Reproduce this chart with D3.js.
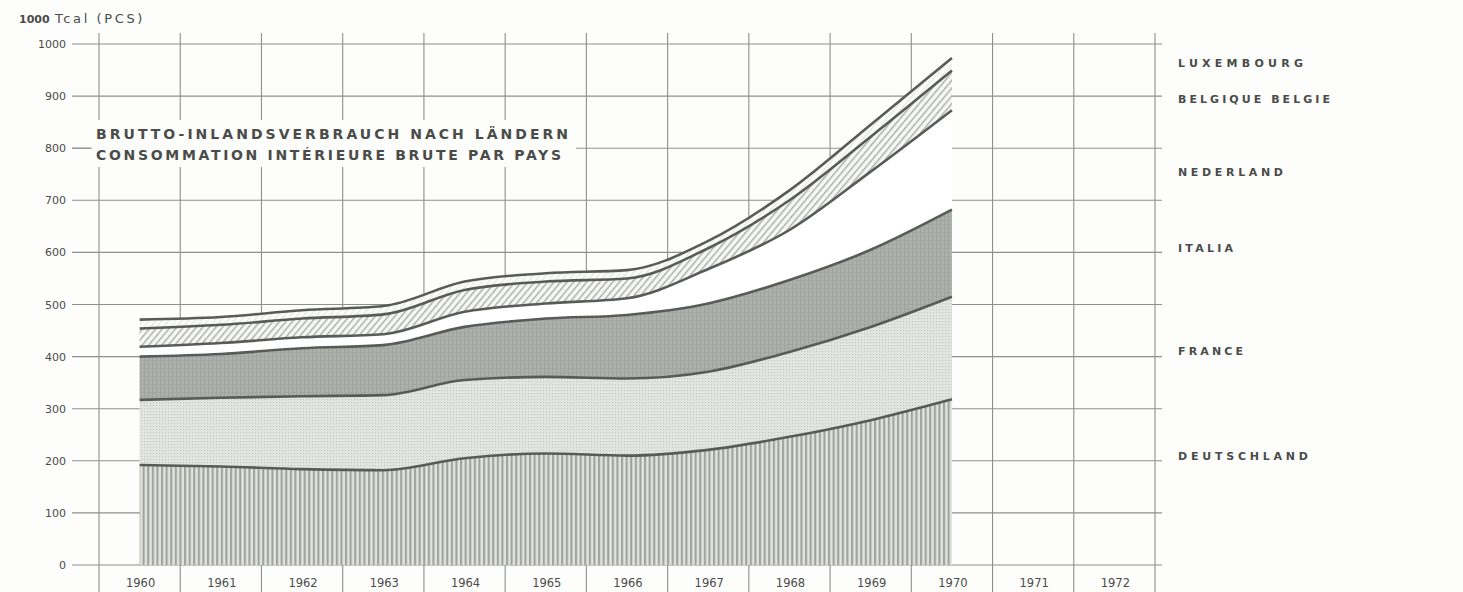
<!DOCTYPE html>
<html>
<head>
<meta charset="utf-8">
<script src="https://cdn.jsdelivr.net/npm/d3@7"></script>
<style>
  html, body { margin: 0; padding: 0; background: #fdfdfb; }
  svg { display: block; }
  text { font-family: "DejaVu Sans", "Liberation Sans", sans-serif; fill: #4a4c4a; }
</style>
</head>
<body>
<svg id="chart" width="1463" height="592"></svg>
<script>
// Gross inland consumption by country, 1000 Tcal (PCS)
const years = [1960, 1961, 1962, 1963, 1964, 1965, 1966, 1967, 1968, 1969, 1970];
const axisYears = [1960, 1961, 1962, 1963, 1964, 1965, 1966, 1967, 1968, 1969, 1970, 1971, 1972];
const yTicks = [0, 100, 200, 300, 400, 500, 600, 700, 800, 900, 1000];

const deutschland = [192, 189, 184, 182, 205, 214, 210, 221, 246, 278, 318];
const france      = [125, 132, 140, 144, 150, 147, 148, 150, 163, 179, 197];
const italia      = [ 83,  84,  92,  96, 102, 112, 122, 131, 138, 148, 167];
const nederland   = [ 19,  21,  21,  21,  29,  29,  32,  66,  96, 150, 191];
const belgique    = [ 35,  35,  36,  38,  42,  42,  38,  40,  57,  67,  76];
const luxembourg  = [ 17,  15,  16,  16,  16,  16,  16,  14,  19,  23,  24];

const countries = ["DEUTSCHLAND", "FRANCE", "ITALIA", "NEDERLAND", "BELGIQUE BELGIE", "LUXEMBOURG"];
const seriesValues = [deutschland, france, italia, nederland, belgique, luxembourg];
const countryLabelWidths = [130, 65, 55, 105, 152, 125];
const titleLines = ["BRUTTO-INLANDSVERBRAUCH NACH LÄNDERN", "CONSOMMATION INTÉRIEURE BRUTE PAR PAYS"];

// rows for d3.stack
const rows = years.map((yr, i) => {
  const r = { year: yr };
  countries.forEach((c, k) => { r[c] = seriesValues[k][i]; });
  return r;
});

const svg = d3.select("#chart");
const x = d3.scaleLinear().domain([1959.5, 1972.5]).range([99, 1155]);
const y = d3.scaleLinear().domain([0, 1000]).range([565, 44]);

// ---- fill patterns ----
const defs = svg.append("defs");

const pDeu = defs.append("pattern").attr("id", "p-deu")
  .attr("patternUnits", "userSpaceOnUse").attr("width", 4.6).attr("height", 10);
pDeu.append("rect").attr("width", 4.6).attr("height", 10).attr("fill", "#e1e4de");
pDeu.append("rect").attr("x", 0).attr("width", 2.1).attr("height", 10).attr("fill", "#9fa39c");

const pFra = defs.append("pattern").attr("id", "p-fra")
  .attr("patternUnits", "userSpaceOnUse").attr("width", 3).attr("height", 3);
pFra.append("rect").attr("width", 3).attr("height", 3).attr("fill", "#e2e5e0");
pFra.append("rect").attr("width", 1.2).attr("height", 1.2).attr("fill", "#c6c9c4");

const pIta = defs.append("pattern").attr("id", "p-ita")
  .attr("patternUnits", "userSpaceOnUse").attr("width", 4).attr("height", 4);
pIta.append("rect").attr("width", 4).attr("height", 4).attr("fill", "#aeb0ac");
pIta.append("rect").attr("width", 1).attr("height", 4).attr("fill", "#a0a29e");
pIta.append("rect").attr("width", 4).attr("height", 1).attr("fill", "#a4a6a2");

const pBel = defs.append("pattern").attr("id", "p-bel")
  .attr("patternUnits", "userSpaceOnUse").attr("width", 5).attr("height", 5)
  .attr("patternTransform", "rotate(40)");
pBel.append("rect").attr("width", 5).attr("height", 5).attr("fill", "#f7f8f5");
pBel.append("rect").attr("width", 1.4).attr("height", 5).attr("fill", "#a9aca7");

const pLux = defs.append("pattern").attr("id", "p-lux")
  .attr("patternUnits", "userSpaceOnUse").attr("width", 5).attr("height", 5)
  .attr("patternTransform", "rotate(40)");
pLux.append("rect").attr("width", 5).attr("height", 5).attr("fill", "#fbfbf9");
pLux.append("rect").attr("width", 1).attr("height", 5).attr("fill", "#e4e5e1");

const fills = ["url(#p-deu)", "url(#p-fra)", "url(#p-ita)", "#ffffff", "url(#p-bel)", "url(#p-lux)"];

// ---- grid ----
const gridColor = "#8e908c";
const grid = svg.append("g");
grid.selectAll("line.h").data(yTicks).join("line")
  .attr("x1", 72).attr("x2", 1162)
  .attr("y1", d => y(d)).attr("y2", d => y(d))
  .attr("stroke", gridColor).attr("stroke-width", 1.1);
const bounds = d3.range(1959.5, 1973, 1);
grid.selectAll("line.v").data(bounds).join("line")
  .attr("x1", d => x(d)).attr("x2", d => x(d))
  .attr("y1", 33).attr("y2", 592)
  .attr("stroke", gridColor).attr("stroke-width", 1.1);

// ---- stacked areas ----
const stack = d3.stack().keys(countries);
const layers = stack(rows);
const curve = d3.curveMonotoneX;
const area = d3.area().curve(curve)
  .x(d => x(d.data.year)).y0(d => y(d[0])).y1(d => y(d[1]));
const topLine = d3.line().curve(curve)
  .x(d => x(d.data.year)).y(d => y(d[1]));

svg.append("g").selectAll("path").data(layers).join("path")
  .attr("d", area).attr("fill", (d, i) => fills[i]).attr("stroke", "none");

svg.append("g").selectAll("path").data(layers).join("path")
  .attr("d", topLine).attr("fill", "none")
  .attr("stroke", "#595b58").attr("stroke-width", 2.6);

// ---- axes labels ----
svg.append("g").selectAll("text").data(yTicks).join("text")
  .attr("x", 66).attr("y", d => y(d) + 4)
  .attr("text-anchor", "end").attr("font-size", 11)
  .attr("font-family", "DejaVu Sans Condensed, DejaVu Sans, sans-serif")
  .attr("fill", "#5a5c5a")
  .text(d => d3.format("d")(d));

svg.append("g").selectAll("text").data(axisYears).join("text")
  .attr("x", d => x(d) + 1).attr("y", 587)
  .attr("text-anchor", "middle").attr("font-size", 11.5)
  .attr("font-family", "DejaVu Sans Condensed, DejaVu Sans, sans-serif")
  .attr("fill", "#5a5c5a")
  .text(d => d);

// unit label
svg.append("text").attr("x", 19).attr("y", 23)
  .attr("font-size", 11).attr("font-weight", "bold")
  .attr("font-family", "DejaVu Sans Condensed, DejaVu Sans, sans-serif")
  .text("1000");
svg.append("text").attr("x", 55).attr("y", 23)
  .attr("font-size", 13).attr("letter-spacing", 2.6)
  .text("Tcal (PCS)");

// ---- title box ----
svg.append("rect").attr("x", 90).attr("y", 120).attr("width", 486).attr("height", 47)
  .attr("fill", "#fdfdfb");
svg.append("line").attr("x1", 72).attr("x2", 92).attr("y1", y(800)).attr("y2", y(800))
  .attr("stroke", gridColor).attr("stroke-width", 1.1);
svg.append("g").selectAll("text").data(titleLines).join("text")
  .attr("x", 96).attr("y", (d, i) => 139 + i * 21)
  .attr("font-size", 14).attr("font-weight", "bold")
  .attr("textLength", (d, i) => i === 0 ? 472 : 465)
  .attr("lengthAdjust", "spacing")
  .attr("fill", "#505250")
  .text(d => d);

// ---- country labels on the right ----
const labelY = [460, 355, 252, 176, 103, 67];
svg.append("g").selectAll("text").data(countries).join("text")
  .attr("x", 1178).attr("y", (d, i) => labelY[i])
  .attr("font-size", 11).attr("font-weight", "bold")
  .attr("textLength", (d, i) => countryLabelWidths[i])
  .attr("lengthAdjust", "spacing")
  .attr("fill", "#555755")
  .text(d => d);
</script>
</body>
</html>
